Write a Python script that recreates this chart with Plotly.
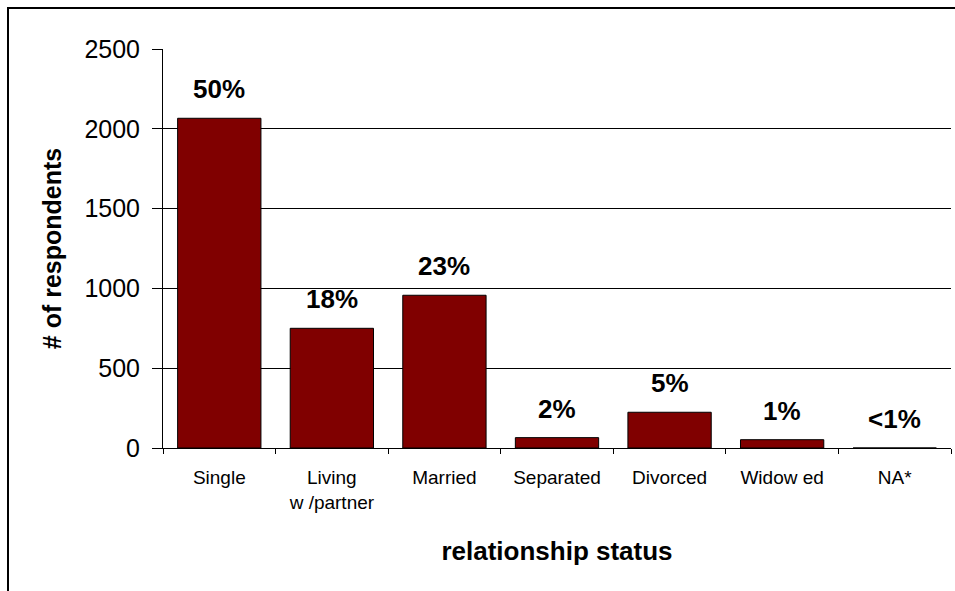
import plotly.graph_objects as go

categories = ["Single", "Living<br>w /partner", "Married", "Separated", "Divorced", "Widow ed", "NA*"]
respondents = [2066, 750, 957, 65, 224, 52, 0]
pct_labels = ["50%", "18%", "23%", "2%", "5%", "1%", "<1%"]
y_ticks = [0, 500, 1000, 1500, 2000, 2500]

FONT = "Liberation Sans, Arial, sans-serif"

fig = go.Figure()
fig.add_trace(go.Bar(
    x=categories, y=respondents,
    marker=dict(color="#800000", line=dict(color="black", width=1)),
    hoverinfo="skip",
))

for c, v, t in zip(categories, respondents, pct_labels):
    fig.add_annotation(x=c, y=v, text="<b>%s</b>" % t, showarrow=False,
                       yanchor="bottom", yshift=12,
                       font=dict(family=FONT, size=26, color="black"))

L, R, T, B = 163, 4, 49, 143
W, H = 955, 591
pw, ph = W - L - R, H - T - B
fx0 = (8 - L) / pw
fy1 = (H - B - 8) / ph
fig.add_shape(type="rect", xref="paper", yref="paper",
              x0=fx0, x1=1.2, y0=-1.0, y1=fy1,
              line=dict(color="black", width=2), fillcolor="rgba(0,0,0,0)", layer="below")

fig.update_layout(
    width=W, height=H,
    margin=dict(l=L, r=R, t=T, b=B, pad=0),
    paper_bgcolor="white", plot_bgcolor="white",
    bargap=0.26,
    showlegend=False,
    font=dict(family=FONT, color="black"),
    xaxis=dict(
        type="category",
        tickson="boundaries", ticks="outside", ticklen=5, tickcolor="black", tickwidth=1,
        showline=True, linecolor="black", linewidth=1,
        showgrid=False,
        tickfont=dict(family=FONT, size=19, color="black"),
        ticklabelstandoff=12,
        title=dict(text="<b>relationship status</b>", standoff=30,
                   font=dict(family=FONT, size=26, color="black")),
    ),
    yaxis=dict(
        range=[0, 2500], tickvals=y_ticks,
        ticks="outside", ticklen=10, tickcolor="black", tickwidth=1,
        showline=True, linecolor="black", linewidth=1,
        showgrid=True, gridcolor="black", gridwidth=1,
        zeroline=False,
        tickfont=dict(family=FONT, size=25, color="black"),
        ticklabelstandoff=7,
        title=dict(text="<b># of respondents</b>", standoff=15,
                   font=dict(family=FONT, size=25, color="black")),
    ),
)

fig.write_html("out.html", config={"displayModeBar": False},
               post_script="document.body.style.margin='0px';document.body.style.overflow='hidden';")
